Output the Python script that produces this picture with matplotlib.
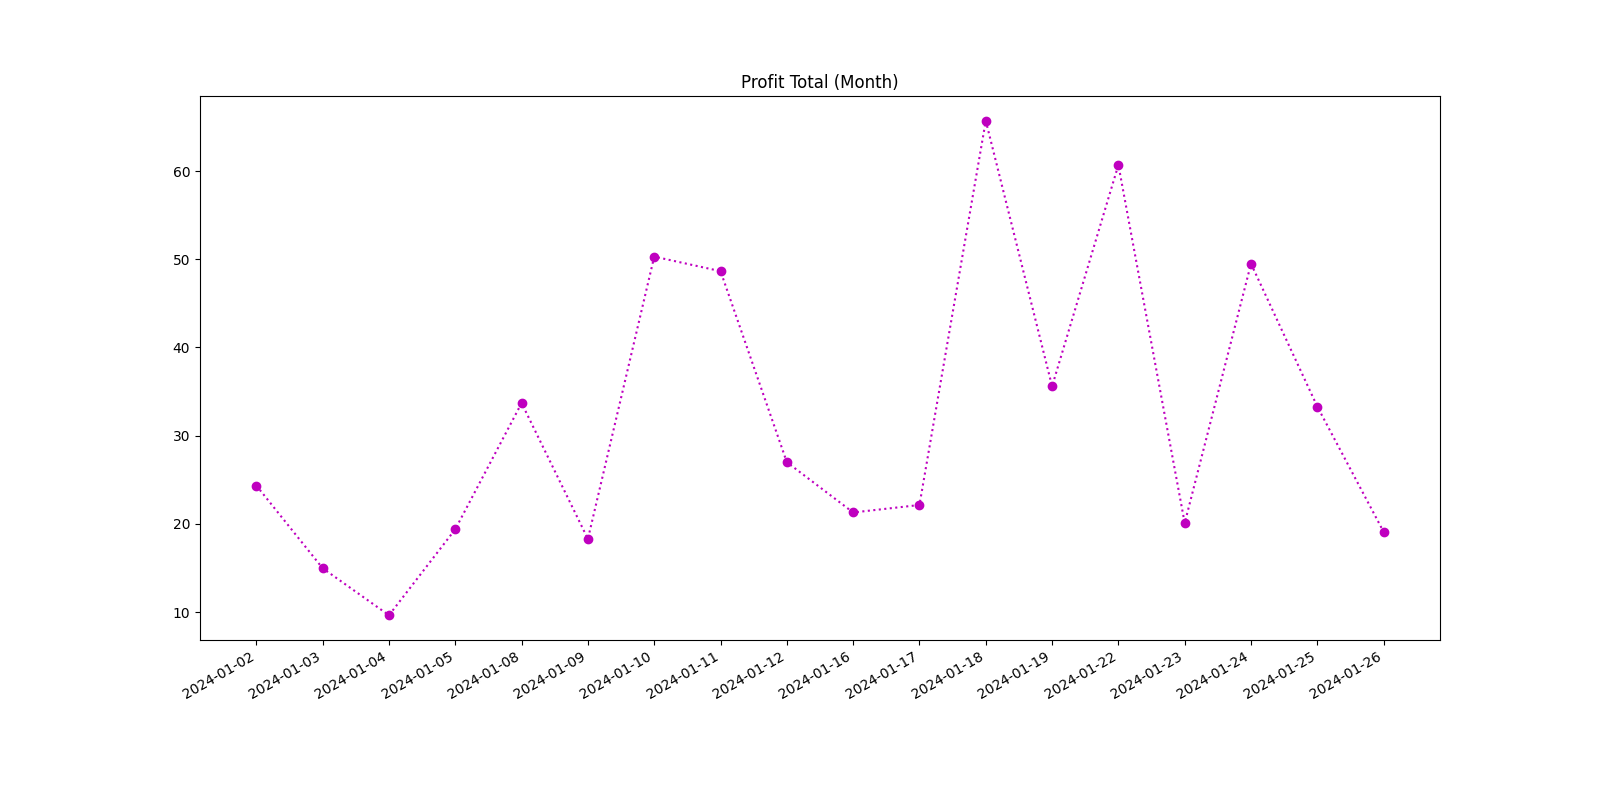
import matplotlib
matplotlib.use("Agg")
import matplotlib.pyplot as plt

dates = ["2024-01-02", "2024-01-03", "2024-01-04", "2024-01-05", "2024-01-08",
         "2024-01-09", "2024-01-10", "2024-01-11", "2024-01-12", "2024-01-16",
         "2024-01-17", "2024-01-18", "2024-01-19", "2024-01-22", "2024-01-23",
         "2024-01-24", "2024-01-25", "2024-01-26"]
profit = [24.35, 14.98, 9.65, 19.4, 33.7, 18.3, 50.3, 48.65, 27.0, 21.3,
          22.15, 65.7, 35.6, 60.7, 20.1, 49.5, 33.3, 19.1]

fig, ax = plt.subplots(figsize=(16, 8), dpi=100)
ax.plot(dates, profit, color="m", linestyle=":", marker="o")
ax.set_title("Profit Total (Month)")
fig.autofmt_xdate()
fig.savefig("out.png")
